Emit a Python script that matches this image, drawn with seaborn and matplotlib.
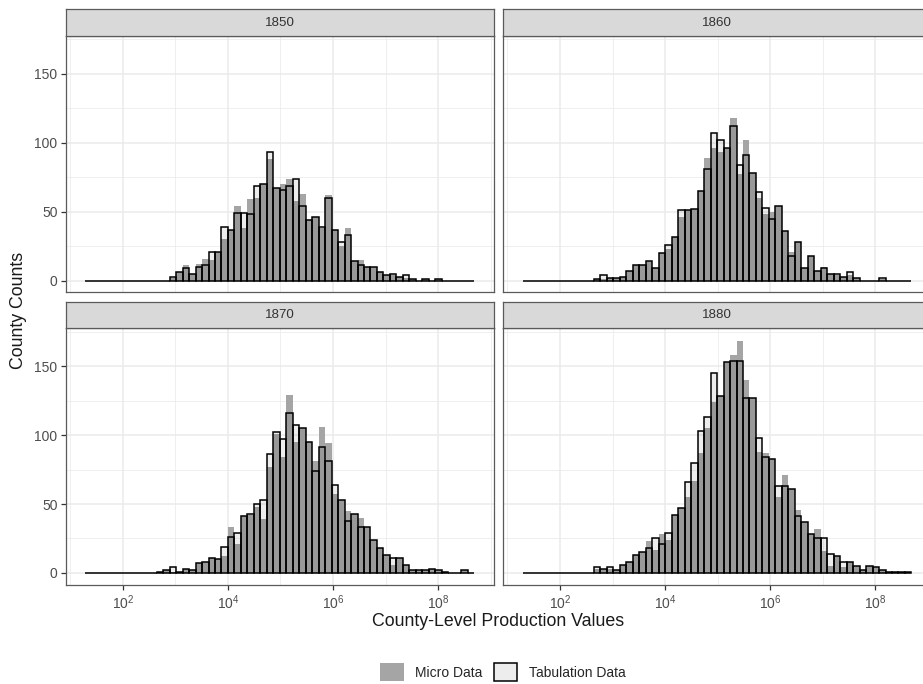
import numpy as np
import pandas as pd
import matplotlib
matplotlib.use("Agg")
import matplotlib.pyplot as plt
from matplotlib.patches import Patch
import seaborn as sns

# ---------------- data ----------------
years = ["1850", "1860", "1870", "1880"]
series_names = ["Micro Data", "Tabulation Data"]
x_tick_exponents = [2, 4, 6, 8]
x_minor_exponents = [1, 3, 5, 7, 9]
y_ticks = [0, 50, 100, 150]
y_minor = [25, 75, 125, 175]

# histogram bins on log10(production value)
log_min, log_max, n_bins = 1.291, 8.684, 60

micro_1850 = [0]*13 + [2, 6, 11, 5, 12, 16, 15, 21, 30, 37, 54, 38, 59, 60, 70, 88, 67, 70, 74, 58,
                       63, 44, 46, 38, 62, 37, 25, 38, 14, 15, 10, 10, 6, 4, 4, 3, 2, 1, 0, 1, 0, 1] + [0]*5
tab_1850 = [0]*13 + [3, 6, 9, 5, 10, 11, 21, 21, 39, 37, 49, 49, 48, 69, 70, 93, 67, 66, 69, 74,
                     54, 44, 46, 39, 60, 37, 28, 33, 14, 11, 10, 10, 6, 4, 5, 3, 4, 1, 0, 1, 0, 1] + [0]*5

micro_1860 = [0]*11 + [1, 1, 2, 2, 3, 7, 11, 11, 14, 9, 20, 23, 32, 46, 51, 52, 65, 89, 96, 93, 96, 118,
                       77, 102, 78, 60, 48, 50, 54, 36, 21, 28, 9, 18, 7, 10, 5, 4, 3, 4, 2, 0, 0, 0, 1] + [0]*4
tab_1860 = [0]*11 + [1, 4, 2, 2, 3, 7, 11, 11, 14, 9, 20, 26, 32, 51, 51, 52, 65, 81, 107, 102, 96, 112,
                     84, 91, 78, 64, 53, 45, 54, 36, 18, 28, 9, 18, 7, 9, 5, 5, 3, 6, 2, 0, 0, 0, 2] + [0]*4

micro_1870 = [0]*11 + [1, 2, 1, 1, 3, 2, 7, 8, 11, 10, 12, 33, 21, 41, 42, 48, 39, 77, 101, 84, 129, 95,
                       105, 95, 81, 106, 94, 57, 53, 45, 43, 40, 33, 24, 18, 13, 6, 11, 6, 2, 2, 2, 3, 2, 1, 0, 0, 2, 0]
tab_1870 = [0]*11 + [1, 2, 4, 1, 3, 2, 7, 8, 11, 10, 19, 26, 29, 41, 43, 50, 53, 86, 102, 97, 116, 107,
                     105, 95, 74, 91, 81, 64, 53, 38, 43, 33, 33, 24, 18, 13, 11, 11, 6, 2, 2, 2, 3, 2, 1, 0, 0, 2, 0]

micro_1880 = [0]*11 + [3, 3, 3, 2, 6, 8, 13, 15, 23, 17, 28, 24, 42, 47, 55, 67, 87, 105, 124, 128, 153, 158,
                       168, 140, 127, 88, 87, 83, 55, 71, 61, 46, 37, 28, 32, 16, 5, 12, 4, 8, 5, 2, 5, 4, 2, 1, 1, 1, 1]
tab_1880 = [0]*11 + [4, 3, 4, 2, 6, 8, 13, 15, 18, 25, 21, 29, 42, 47, 66, 80, 103, 113, 145, 128, 153, 154,
                     154, 127, 127, 98, 84, 83, 63, 63, 61, 41, 37, 28, 25, 25, 14, 12, 8, 8, 5, 2, 5, 4, 2, 1, 1, 1, 1]

micro_counts = {"1850": micro_1850, "1860": micro_1860, "1870": micro_1870, "1880": micro_1880}
tab_counts = {"1850": tab_1850, "1860": tab_1860, "1870": tab_1870, "1880": tab_1880}

bin_edges = np.linspace(log_min, log_max, n_bins + 1)
bin_centers = (bin_edges[:-1] + bin_edges[1:]) / 2
bin_list = [float(b) for b in bin_edges]

rows = []
for yr in years:
    for src, table in zip(series_names, [micro_counts, tab_counts]):
        for c, n in zip(bin_centers, table[yr]):
            rows.append({"year": yr, "source": src, "log_value": float(c), "count": float(n)})
df = pd.DataFrame(rows)

# ---------------- style ----------------
sns.set_theme(style="white")
plt.rcParams["font.family"] = ["Liberation Sans", "DejaVu Sans"]

W, H = 923, 684
fig = plt.figure(figsize=(W / 100, H / 100), dpi=100)
fig.patch.set_facecolor("white")

col_left = [66.0, 503.3]
row_top = [36.0, 328.3]
pw, ph = 427.6, 256.3
strip_h = 26.6

micro_color = "#a5a5a5"
border = "#5a5a5a"
grid_c = "#ebebeb"

x_lim = (0.921, 9.054)
y_lim = (-8.45, 177.45)

for i, yr in enumerate(years):
    r, c = divmod(i, 2)
    left, top = col_left[c], row_top[r]
    ax = fig.add_axes([left / W, 1 - (top + ph) / H, pw / W, ph / H])
    sub = df[df["year"] == yr]
    m = sub[sub["source"] == "Micro Data"].reset_index(drop=True)
    t = sub[sub["source"] == "Tabulation Data"].reset_index(drop=True)
    sns.histplot(data=m, x="log_value", weights="count", bins=bin_list, ax=ax,
                 color=micro_color, alpha=1, edgecolor="none", linewidth=0)
    sns.histplot(data=t, x="log_value", weights="count", bins=bin_list, ax=ax,
                 color="black", alpha=0.07, edgecolor="black", linewidth=1.1)
    ax.set_xlim(*x_lim)
    ax.set_ylim(*y_lim)
    ax.set_xlabel("")
    ax.set_ylabel("")
    ax.set_xticks(x_tick_exponents)
    ax.set_xticks(x_minor_exponents, minor=True)
    ax.set_xticklabels([r"$\mathregular{10^{%d}}$" % e for e in x_tick_exponents])
    ax.set_yticks(y_ticks)
    ax.set_yticks(y_minor, minor=True)
    ax.set_axisbelow(True)
    ax.grid(which="major", color=grid_c, linewidth=1.1)
    ax.grid(which="minor", color=grid_c, linewidth=0.55)
    for sp in ax.spines.values():
        sp.set_color(border)
        sp.set_linewidth(0.9)
        sp.set_visible(True)
    ax.tick_params(which="major", length=3.6, width=0.9, color="#333333",
                   labelcolor="#4d4d4d", labelsize=10, pad=2.5,
                   left=(c == 0), labelleft=(c == 0),
                   bottom=(r == 1), labelbottom=(r == 1))
    ax.tick_params(which="minor", length=0)

    sax = fig.add_axes([left / W, 1 - top / H, pw / W, strip_h / H])
    sax.set_facecolor("#d9d9d9")
    sax.set_xticks([])
    sax.set_yticks([])
    for sp in sax.spines.values():
        sp.set_color(border)
        sp.set_linewidth(0.9)
    sax.text(0.5, 0.5, yr, ha="center", va="center", fontsize=9.6,
             color="#333333", transform=sax.transAxes)

fig.text(498 / W, 1 - 621 / H, "County-Level Production Values", ha="center", va="center",
         fontsize=12.8, color="#1a1a1a")
fig.text(19 / W, 1 - 310 / H, "County Counts", ha="center", va="center",
         rotation=90, fontsize=12.8, color="#1a1a1a")

handles = [Patch(facecolor=micro_color, edgecolor="none"),
           Patch(facecolor="#ededed", edgecolor="black", linewidth=1.1)]
fig.legend(handles, series_names, loc="center", bbox_to_anchor=(503 / W, 1 - 672 / H),
           ncol=2, frameon=False, fontsize=10, handlelength=1.7, handleheight=1.6,
           handletextpad=0.85, columnspacing=0.8)

fig.savefig("out.png", dpi=100, facecolor="white")
